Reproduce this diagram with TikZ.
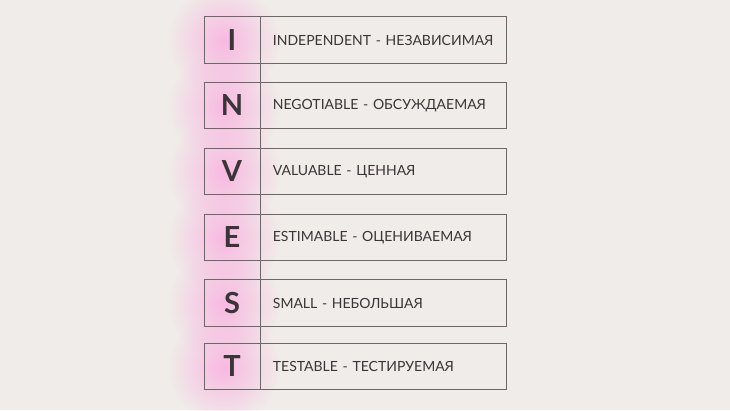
\documentclass[tikz,border=0pt]{standalone}
\usepackage{fontspec}
\setmainfont{Lato}
\usetikzlibrary{positioning, fadings}
\definecolor{paper}{HTML}{F0ECE9}
\definecolor{glow}{HTML}{F9B8E2}
\definecolor{ink}{HTML}{3A3536}
\definecolor{frame}{HTML}{6E6767}
\tikzfading[name=glowfade, inner color=transparent!0, outer color=transparent!100]

\begin{document}
\begin{tikzpicture}[x=1pt, y=-1pt,
        letter/.style={draw=frame, line width=0.9pt, minimum width=56pt,
            minimum height=46.5pt, inner sep=0pt, text=ink,
            font=\fontsize{29}{29}\selectfont\bfseries},
        word/.style={draw=frame, line width=0.9pt, minimum height=46.5pt,
            inner xsep=12pt, inner ysep=0pt, text width=222pt, align=left,
            text=ink, font=\fontsize{14}{14}\selectfont},
        halo/.style={glow, path fading=glowfade}]
            \useasboundingbox (0,0) rectangle (730,410);
            \clip (0,0) rectangle (730,410);
            \fill[paper] (0,0) rectangle (730,410);

            % pink glow behind the letters
            \fill[halo] (224,41) circle (56);
            \fill[halo] (224,106.5) circle (56);
            \fill[halo] (224,172.5) circle (56);
            \fill[halo] (224,238.5) circle (56);
            \fill[halo] (224,304) circle (56);
            \fill[halo] (224,367.5) circle (56);

            \node [letter] (i) at (232,40) {I};
            \node [word, right=0pt of i] (indep) {\mbox{INDEPENDENT - НЕЗАВИСИМАЯ}};
            \node [letter] (n) at (232,105.5) {N};
            \node [word, right=0pt of n] (negot) {\mbox{NEGOTIABLE - ОБСУЖДАЕМАЯ}};
            \node [letter] (v) at (232,171.5) {V};
            \node [word, right=0pt of v] (valu) {\mbox{VALUABLE - ЦЕННАЯ}};
            \node [letter] (e) at (232,237.5) {E};
            \node [word, right=0pt of e] (estim) {\mbox{ESTIMABLE - ОЦЕНИВАЕМАЯ}};
            \node [letter] (s) at (232,303) {S};
            \node [word, right=0pt of s] (small) {\mbox{SMALL - НЕБОЛЬШАЯ}};
            \node [letter] (t) at (232,366.5) {T};
            \node [word, right=0pt of t] (test) {\mbox{TESTABLE - ТЕСТИРУЕМАЯ}};

            \draw [frame, line width=0.9pt] (i.north east) -- (t.south east);
        \end{tikzpicture}
\end{document}
